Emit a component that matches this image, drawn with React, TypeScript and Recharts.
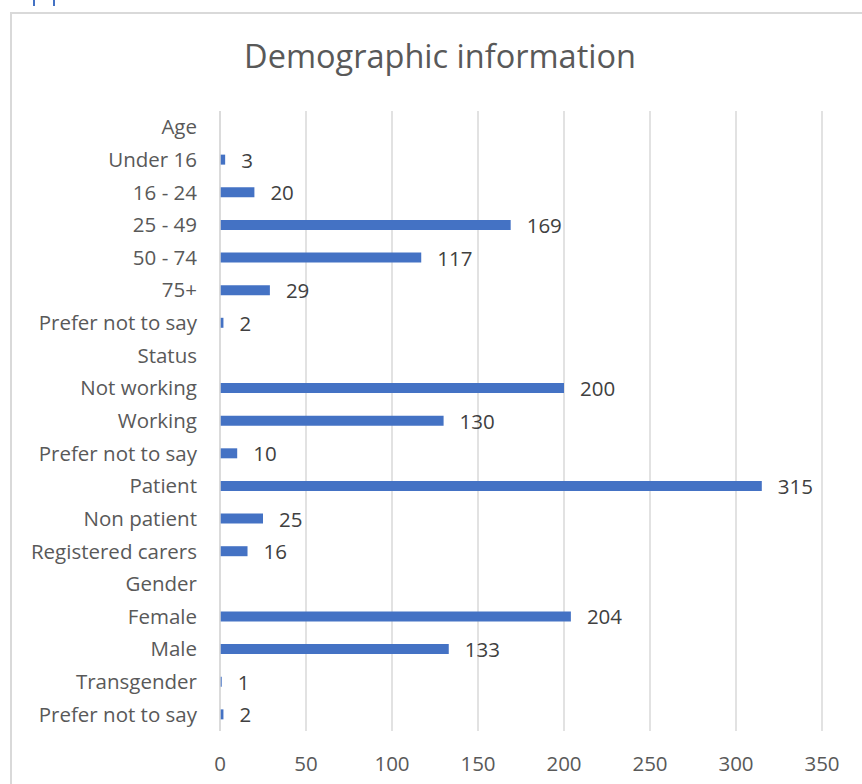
import React from 'react';
import { BarChart, Bar, XAxis, YAxis, CartesianGrid, LabelList } from 'recharts';

const categories = [
  'Age', 'Under 16', '16 - 24', '25 - 49', '50 - 74', '75+', 'Prefer not to say',
  'Status', 'Not working', 'Working', 'Prefer not to say', 'Patient', 'Non patient', 'Registered carers',
  'Gender', 'Female', 'Male', 'Transgender', 'Prefer not to say',
];
const values: (number | null)[] = [
  null, 3, 20, 169, 117, 29, 2,
  null, 200, 130, 10, 315, 25, 16,
  null, 204, 133, 1, 2,
];
const xTicks = [0, 50, 100, 150, 200, 250, 300, 350];

const data = categories.map((c, i) => ({ label: c, value: values[i] }));

const FONT = '"Open Sans", "Noto Sans", sans-serif';
const FS = 20.5;

const YTick = (props: any) => {
  const { y, payload } = props;
  return (
    <text x={197} y={y} dy={7} textAnchor="end" fontSize={FS} fill="#595959" fontFamily={FONT}>
      {payload.value}
    </text>
  );
};

const XTick = (props: any) => {
  const { x, payload } = props;
  return (
    <text x={x} y={771} textAnchor="middle" fontSize={FS} fill="#595959" fontFamily={FONT}>
      {payload.value}
    </text>
  );
};

const ValueLabel = (props: any) => {
  const { x, y, width, height, value } = props;
  if (value === null || value === undefined) return null;
  return (
    <text x={x + width + 16} y={y + height / 2} dy={8} fontSize={FS} fill="#404040" fontFamily={FONT}>
      {value}
    </text>
  );
};

export default function App() {
  return (
    <div style={{ position: 'absolute', left: 0, top: 0, width: 862, height: 784, background: '#fff', overflow: 'hidden' }}>
      <div style={{ position: 'absolute', left: 33, top: 0, width: 2, height: 6, background: '#4472C4' }} />
      <div style={{ position: 'absolute', left: 53, top: 0, width: 2, height: 6, background: '#4472C4' }} />
      <div style={{ position: 'absolute', left: 10, top: 12, width: 900, height: 800, border: '2px solid #d9d9d9', boxSizing: 'border-box' }} />
      <div style={{ position: 'absolute', left: 10, top: 33, width: 860, textAlign: 'center', fontFamily: FONT, fontSize: 32.5, color: '#595959' }}>
        Demographic information
      </div>
      <div style={{ position: 'absolute', left: 0, top: 0 }}>
        <BarChart
          width={862}
          height={784}
          data={data}
          layout="vertical"
          margin={{ top: 111, right: 40, bottom: 13, left: 10 }}
          barCategoryGap={0}
        >
          <CartesianGrid horizontal={false} vertical stroke="#d9d9d9" strokeWidth={1.5} />
          <XAxis
            type="number"
            domain={[0, 350]}
            ticks={xTicks}
            axisLine={false}
            tickLine={false}
            tick={<XTick />}
            height={40}
          />
          <YAxis
            type="category"
            dataKey="label"
            width={210}
            axisLine={{ stroke: '#d9d9d9', strokeWidth: 1.5 }}
            tickLine={false}
            tick={<YTick />}
            interval={0}
            allowDuplicatedCategory
          />
          <Bar dataKey="value" fill="#4472C4" barSize={10} isAnimationActive={false}>
            <LabelList dataKey="value" content={<ValueLabel />} />
          </Bar>
        </BarChart>
      </div>
    </div>
  );
}
